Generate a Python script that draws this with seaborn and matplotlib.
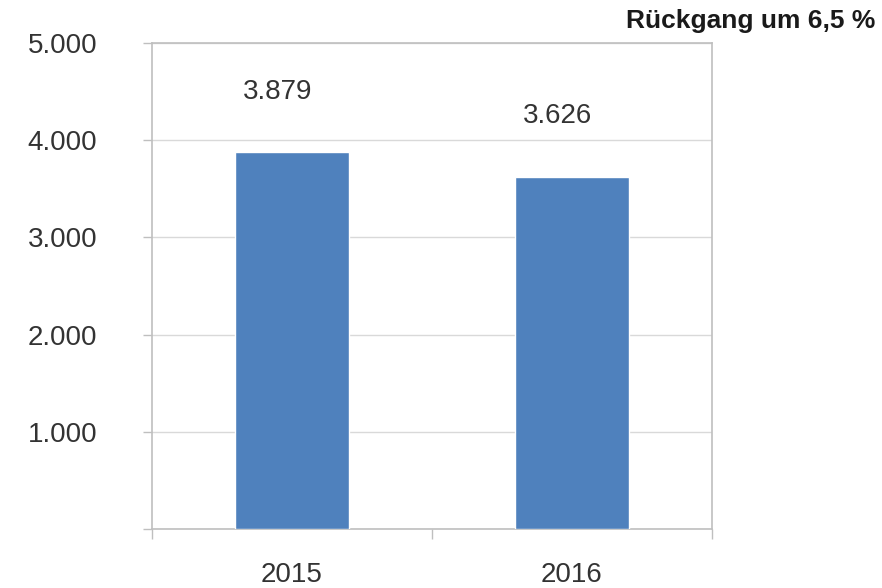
import matplotlib
matplotlib.use("Agg")
import matplotlib.pyplot as plt
from matplotlib.ticker import FixedLocator, FuncFormatter
from matplotlib.transforms import Bbox
import seaborn as sns
import pandas as pd

# Data
years = ["2015", "2016"]
values = [3879, 3626]
y_ticks = [0, 1000, 2000, 3000, 4000, 5000]
title_text = "Rückgang um 6,5 %"

sns.set_theme(style="white")
plt.rcParams["font.family"] = ["Liberation Sans", "DejaVu Sans"]

BAR = "#4F81BD"
AXIS = "#BFBFBF"
GRID = "#D9D9D9"
TEXT = "#333333"

W, H, DPI = 882, 588, 100
fig = plt.figure(figsize=(W / DPI, H / DPI), dpi=DPI)
ax = fig.add_axes([152 / W, 1 - 529 / H, (712 - 152) / W, (529 - 43) / H])

df = pd.DataFrame({"year": years, "value": values})
sns.barplot(data=df, x="year", y="value", color=BAR, saturation=1,
            width=0.405, ax=ax, zorder=3)

ax.set_xlim(-0.5, 1.5)
ax.set_ylim(0, 5000)
ax.set_xlabel("")
ax.set_ylabel("")

# y axis: ticks, German thousands separator, light grid
ax.yaxis.set_major_locator(FixedLocator(y_ticks))
ax.yaxis.set_major_formatter(
    FuncFormatter(lambda v, p: "" if v == 0 else f"{int(v):,}".replace(",", ".")))
ax.grid(axis="y", color=GRID, linewidth=1.0, zorder=0)
ax.tick_params(axis="y", which="major", direction="out", length=6.5, width=1.0,
               color=AXIS, left=True, labelsize=20, labelcolor=TEXT, pad=33)

# x axis: category labels, tick marks between categories
ax.set_xticks([0, 1])
ax.set_xticks([-0.5, 0.5, 1.5], minor=True)
ax.tick_params(axis="x", which="major", length=0, labelsize=20,
               labelcolor=TEXT, pad=24)
ax.tick_params(axis="x", which="minor", direction="out", length=7, width=1.0,
               color=AXIS, bottom=True)

for s in ax.spines.values():
    s.set_visible(True)
    s.set_color(AXIS)
    s.set_linewidth(1.2)

# value labels above the bars
for i, v in enumerate(values):
    ax.text(i - 0.05, v + 620, f"{v:,}".replace(",", "."), ha="center",
            va="center", fontsize=20, color=TEXT)

# headline in the top right corner, cut off at the lower edge
t = fig.text(875 / W, 1 - 28 / H, title_text, ha="right", va="baseline",
             fontsize=19, fontweight="bold", color="#1a1a1a")
t.set_clip_box(Bbox.from_extents(0, H - 33, W, H))
t.set_clip_on(True)

fig.savefig("out.png", dpi=DPI, facecolor="white")
